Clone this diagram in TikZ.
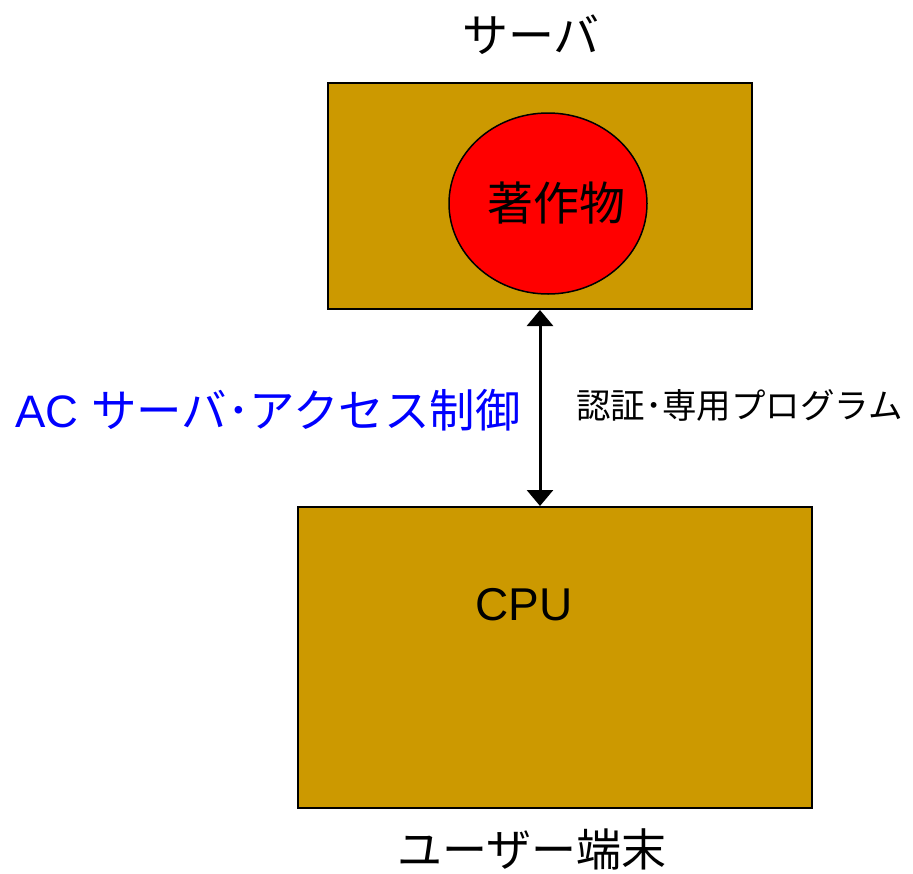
\documentclass[tikz,border=0pt]{standalone}
\usepackage{fontspec}
\setmainfont{Liberation Sans}
\newfontfamily\jp{Noto Sans CJK JP}
\usetikzlibrary{shapes.geometric,arrows.meta}
\definecolor{boxfill}{RGB}{204,153,0}
\definecolor{workred}{RGB}{255,0,0}
\definecolor{acblue}{RGB}{0,0,255}
\tikzset{
  box/.style={draw=black,line width=2pt,fill=boxfill,inner sep=0pt},
  work/.style={ellipse,draw=black,line width=1.5pt,fill=workred,inner sep=0pt},
  big/.style={font=\fontsize{46}{50}\selectfont\jp,inner sep=0pt},
  mid/.style={font=\fontsize{34.5}{40}\selectfont\jp,inner sep=0pt},
  link/.style={line width=3pt,{Triangle[width=26pt,length=16pt]}-{Triangle[width=26pt,length=16pt]}}
}
\begin{document}
\begin{tikzpicture}[x=1pt,y=-1pt]
\useasboundingbox (0,0) rectangle (913,873);
\node[big] (servertitle) at (531,35) {サーバ};
\node[box,minimum width=424pt,minimum height=226pt] (server) at (540,196) {};
\node[work,minimum width=198pt,minimum height=181pt] (work) at (548,203.5) {};
\node[big] (worktext) at (556,203) {著作物};
\node[box,minimum width=514pt,minimum height=301pt] (terminal) at (555,657.5) {};
\node[big,font=\fontsize{46}{50}\selectfont] (cpu) at (524,605) {CPU};
\node[big,font=\fontsize{45}{50}\selectfont\jp] (termtitle) at (532,849) {ユーザー端末};
\draw[link] (server.south) -- (server.south |- terminal.north);
\node[big,text=acblue,anchor=west,font=\fontsize{45.5}{50}\selectfont] (ac) at (15,410) {AC {\jp サーバ･アクセス制御}};
\node[mid,anchor=west] (auth) at (576,405) {認証･専用プログラム};
\end{tikzpicture}
\end{document}
